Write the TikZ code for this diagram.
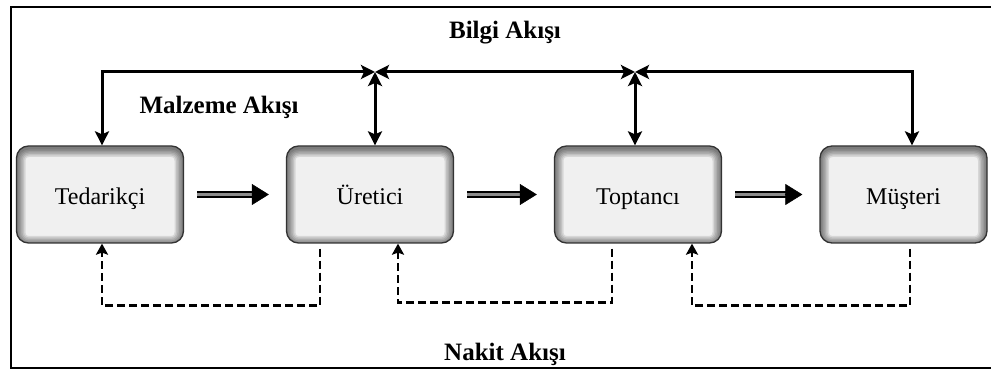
\documentclass[tikz,border=0pt]{standalone}
\usepackage{fontspec}
\setmainfont{Liberation Serif}
\usetikzlibrary{arrows.meta,calc}
\begin{document}
\begin{tikzpicture}[x=1pt,y=-1pt,
  stage/.style={draw=black!80, line width=1.3pt, rounded corners=12pt,
    fill=black!6, minimum width=167pt, minimum height=97pt,
    text height=23pt, text depth=3pt,
    font=\fontsize{24}{26}\selectfont,
    path picture={
      \foreach \w in {3,6,...,18}{
        \draw[black, opacity=0.1, line width=\w pt, rounded corners=12pt]
          ([yshift=-2pt]path picture bounding box.south west) rectangle
          ([yshift=-2pt]path picture bounding box.north east);
      }}},
  heading/.style={font=\bfseries\fontsize{25}{27}\selectfont},
  info/.style={line width=3pt, {Stealth[length=14pt,width=14pt,inset=3pt]}-{Stealth[length=14pt,width=14pt,inset=3pt]}},
  cash/.style={line width=2.8pt, dash pattern=on 8pt off 4pt, -{Stealth[length=11pt,width=12pt,inset=2pt]}},
  goodsshaft/.style={draw=black, line width=1.8pt, double=black!45, double distance=3pt,
    shorten <=13pt, shorten >=31pt},
  goodstip/.style={line width=0.5pt, shorten <=80pt, shorten >=17pt,
    -{Triangle[length=17pt,width=21pt]}},
]
\useasboundingbox (0,0) rectangle (991,371);
\clip (0,0) rectangle (991,371);

% outer frame, open to the right
\draw[line width=2.8pt] (1000,7) -- (11,7) -- (11,368) -- (1000,368);

% stages of the chain
\node[stage] (t) at (100,194.5) {Tedarikçi};
\node[stage] (u) at (370,194.5) {Üretici};
\node[stage] (p) at (638,194.5) {Toptancı};
\node[stage] (m) at (903.5,194.5) {Müşteri};

% headings
\node[heading] (hb) at (505,33) {Bilgi Akışı};
\node[heading] (hm) at (219,107) {Malzeme Akışı};
\node[heading] (hn) at (505,354) {Nakit Akışı};

% information flow along the top
\coordinate (cl) at (102,72);
\coordinate (j1) at (375,72);
\coordinate (j2) at (635,72);
\coordinate (cr) at (912,72);
\draw[info] (j1) -- (cl) -- (cl |- t.north);
\draw[info] (j1) -- (j2);
\draw[info] (j2) -- (cr) -- (cr |- m.north);
\draw[info] (j1) -- (j1 |- u.north);
\draw[info] (j2) -- (j2 |- p.north);

% material flow
\draw[goodsshaft] (t) -- (u);
\draw[goodstip] (t) -- (u);
\draw[goodsshaft] (u) -- (p);
\draw[goodstip] (u) -- (p);
\draw[goodsshaft] (p) -- (m);
\draw[goodstip] (p) -- (m);

% cash flow along the bottom
\draw[cash] ([xshift=-50pt,yshift=-5pt]u.south) -- ++(0,57) -| ([xshift=2pt]t.south);
\draw[cash] ([xshift=-26pt,yshift=-5pt]p.south) -- ++(0,54) -| ([xshift=28pt]u.south);
\draw[cash] ([xshift=6.5pt,yshift=-5pt]m.south) -- ++(0,57) -| ([xshift=54pt]p.south);
\end{tikzpicture}
\end{document}
